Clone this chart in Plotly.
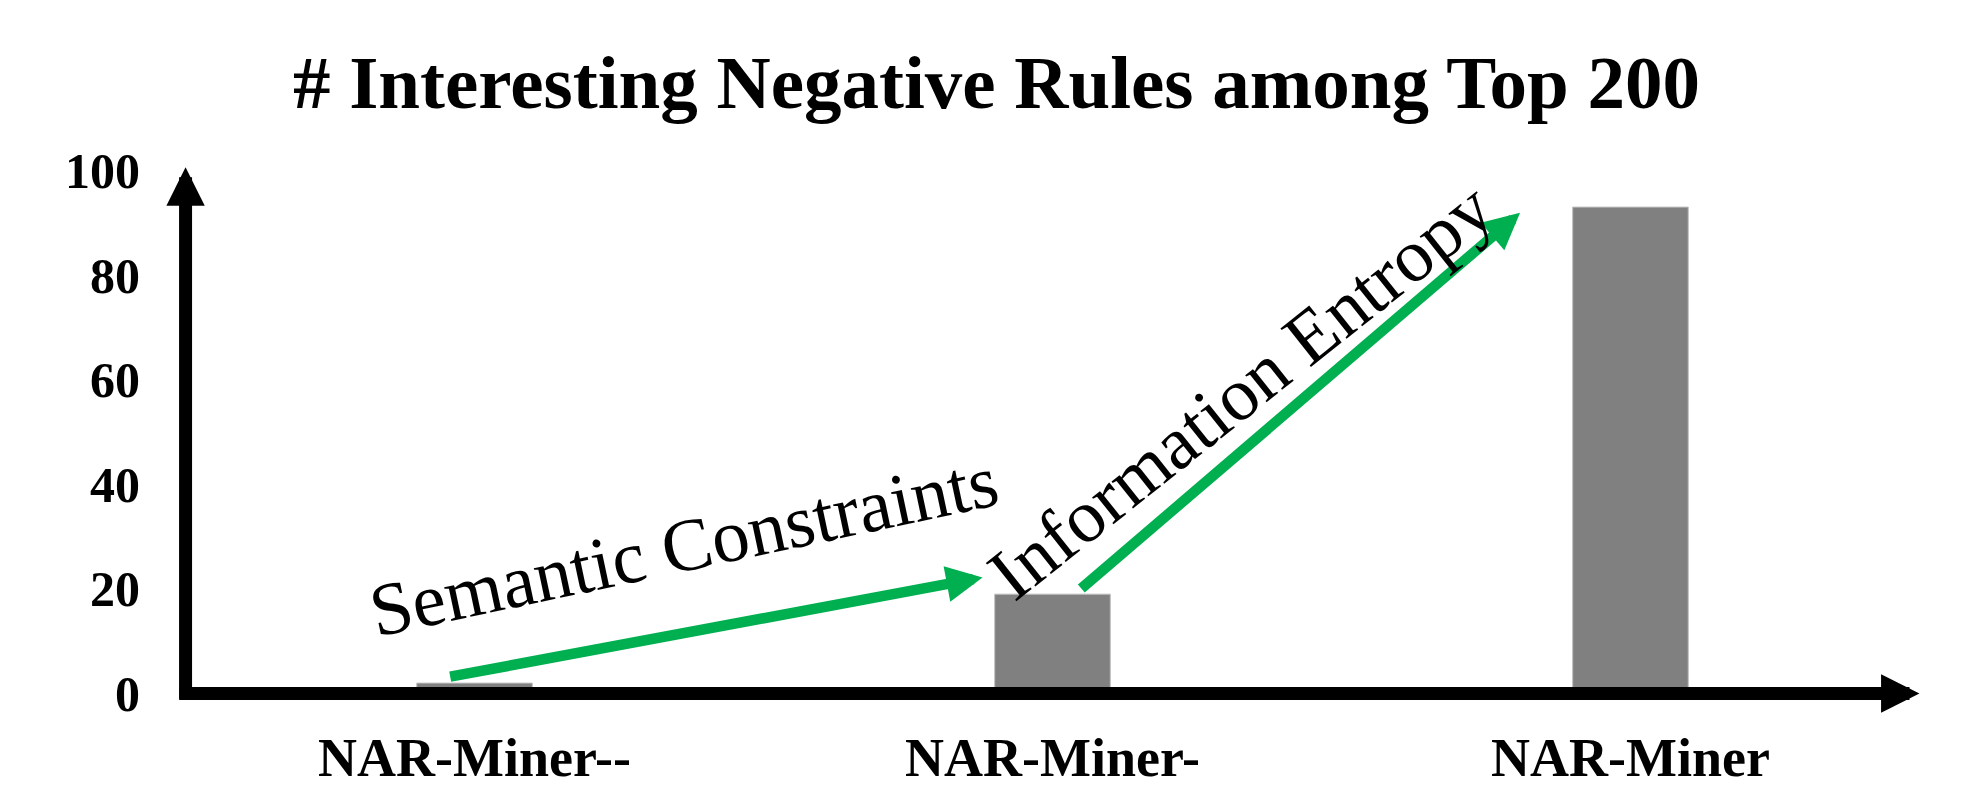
import plotly.graph_objects as go

# data
categories = ["NAR-Miner--", "NAR-Miner-", "NAR-Miner"]
counts = [2, 19, 93]
y_ticks = [0, 20, 40, 60, 80, 100]

title_text = "# Interesting Negative Rules among Top 200"
step_labels = ["Semantic Constraints", "Information Entropy"]

serif = "Liberation Serif, Times New Roman, serif"
green = "#00B050"

fig = go.Figure()
fig.add_trace(go.Bar(
    x=categories, y=counts, width=0.2,
    marker=dict(color="#808080", line=dict(color="#c0c0c0", width=1)),
    hoverinfo="x+y",
))

annotations = []

# axis lines with arrow heads
annotations.append(dict(x=-0.5, y=100.6, ax=-0.5, ay=-1.3, xref="x", yref="y",
                        axref="x", ayref="y", text="", showarrow=True,
                        arrowhead=2, arrowwidth=13, arrowsize=0.59,
                        arrowcolor="black", standoff=0, startstandoff=0,
                        font=dict(size=1), borderpad=0))
annotations.append(dict(x=2.5, y=0, ax=-0.511, ay=0, xref="x", yref="y",
                        axref="x", ayref="y", text="", showarrow=True,
                        arrowhead=2, arrowwidth=13, arrowsize=0.59,
                        arrowcolor="black", standoff=0, startstandoff=0,
                        font=dict(size=1), borderpad=0))

# green arrows between the bars (tail offset, head offset relative to bar tops)
steps = [
    ((0 - 0.043, counts[0] + 1.2), (1 - 0.121, counts[1] + 3.2)),
    ((1 + 0.049, counts[1] + 1.0), (2 - 0.191, counts[2] - 1.1)),
]
for (tx, ty), (hx, hy) in steps:
    annotations.append(dict(x=hx, y=hy, ax=tx, ay=ty, xref="x", yref="y",
                            axref="x", ayref="y", text="", showarrow=True,
                            arrowhead=2, arrowwidth=10.5, arrowsize=0.69,
                            arrowcolor=green, standoff=0, startstandoff=0,
                            font=dict(size=1), borderpad=0))

# rotated step texts
annotations.append(dict(x=0.362, y=28.3, xref="x", yref="y", text=step_labels[0],
                        showarrow=False, textangle=-12,
                        font=dict(family=serif, size=75, color="black")))
annotations.append(dict(x=1.325, y=58.0, xref="x", yref="y", text=step_labels[1],
                        showarrow=False, textangle=-38.5,
                        font=dict(family=serif, size=75, color="black")))

fig.update_layout(
    width=1979, height=791,
    margin=dict(l=174, r=48, t=159.5, b=86.5, autoexpand=False),
    paper_bgcolor="white", plot_bgcolor="white",
    showlegend=False,
    title=dict(text=title_text, x=0.5035, xref="container", xanchor="center",
               y=1 - 82 / 791, yref="container", yanchor="middle",
               font=dict(family=serif, size=75, color="black", weight="bold")),
    annotations=annotations,
)
fig.update_xaxes(range=[-0.52, 2.52], automargin=False, showgrid=False,
                 zeroline=False, showline=False,
                 ticks="outside", ticklen=6, tickcolor="rgba(0,0,0,0)",
                 tickfont=dict(family=serif, size=54, color="black", weight="bold"))
fig.update_yaxes(range=[-2, 102], automargin=False, showgrid=False,
                 zeroline=False, showline=False,
                 tickmode="array", tickvals=y_ticks,
                 ticks="outside", ticklen=23, tickcolor="rgba(0,0,0,0)",
                 tickfont=dict(family=serif, size=50, color="black", weight="bold"))

# the page's default body margin would push the figure off by 8px
fig.write_html("out.html", config={"displayModeBar": False},
               post_script="document.body.style.margin='0px';")
